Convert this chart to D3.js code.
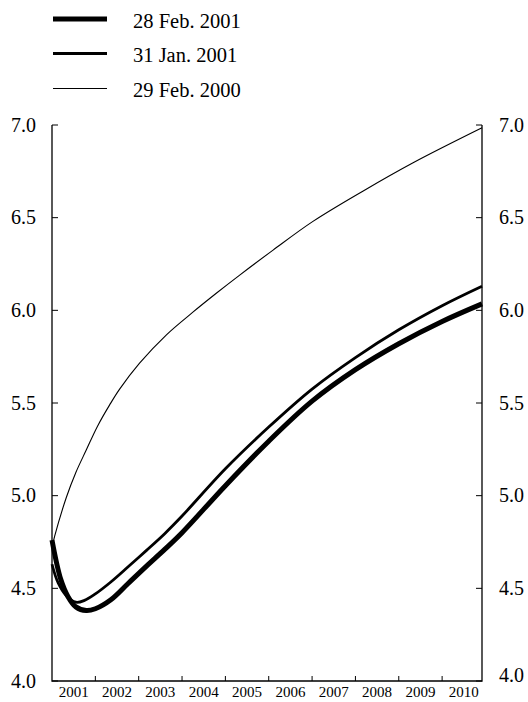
<!DOCTYPE html>
<html><head><meta charset="utf-8">
<script src="https://cdn.jsdelivr.net/npm/d3@7"></script>
<style>
body{margin:0;background:#fff}
svg{display:block}
text{font-family:"Liberation Serif","DejaVu Serif","Times New Roman",serif;fill:#000}
</style>
</head><body>
<svg id="c" width="528" height="702"></svg>
<script>
// ---- data ----
const seriesNames = ["28 Feb. 2001", "31 Jan. 2001", "29 Feb. 2000"];
const feb2001 = [[2001.00,4.76],[2001.20,4.55],[2001.37,4.455],[2001.55,4.40],[2001.79,4.38],[2002.00,4.39],[2002.35,4.437],[2002.75,4.525],[2003.18,4.62],[2003.60,4.71],[2004.00,4.80],[2005.00,5.054],[2006.00,5.294],[2007.00,5.51],[2008.00,5.68],[2009.00,5.82],[2010.00,5.94],[2010.92,6.035]];
const jan2001 = [[2001.00,4.63],[2001.14,4.53],[2001.33,4.46],[2001.55,4.425],[2001.75,4.435],[2002.00,4.47],[2002.35,4.533],[2002.75,4.615],[2003.18,4.705],[2003.60,4.795],[2004.00,4.89],[2005.00,5.145],[2006.00,5.37],[2007.00,5.575],[2008.00,5.745],[2009.00,5.895],[2010.00,6.025],[2010.92,6.13]];
const feb2000 = [[2001.00,4.72],[2001.06,4.78],[2001.33,4.99],[2001.55,5.125],[2001.79,5.246],[2002.05,5.375],[2002.33,5.49],[2002.56,5.575],[2003.02,5.715],[2003.64,5.868],[2004.25,5.99],[2004.79,6.092],[2005.33,6.19],[2006.10,6.325],[2007.02,6.48],[2008.17,6.643],[2009.32,6.795],[2010.92,6.985]];
const yTicks = [4.0, 4.5, 5.0, 5.5, 6.0, 6.5, 7.0];
const yearLabels = [2001, 2002, 2003, 2004, 2005, 2006, 2007, 2008, 2009, 2010];
const xDomain = [2001, 2010.92];

// ---- layout ----
const FONT = '"Liberation Serif","DejaVu Serif","Times New Roman",serif';
const svg = d3.select("#c");
const L = 52, R = 482, T = 125, B = 681;
const x = d3.scaleLinear().domain(xDomain).range([L, R]);
const y = d3.scaleLinear().domain([4, 7]).range([B, T]);
const widths = [5, 2.8, 1.1];
const data = [feb2001, jan2001, feb2000];

// axes lines
const g = svg.append("g").attr("stroke", "#000").attr("fill", "none");
g.append("path").attr("stroke-width", 1.3).attr("d", `M${L},${T}V${B}H${R}V${T}`);

// y ticks & labels
yTicks.forEach(v => {
  const yy = y(v);
  g.append("line").attr("x1", L).attr("x2", L + 6).attr("y1", yy).attr("y2", yy).attr("stroke-width", 1);
  g.append("line").attr("x1", R).attr("x2", R - 6).attr("y1", yy).attr("y2", yy).attr("stroke-width", 1);
  svg.append("text").attr("x", 36).attr("y", yy).attr("dy", "0.34em").attr("font-family", FONT)
    .attr("text-anchor", "end").attr("font-size", 20).text(v.toFixed(1));
  svg.append("text").attr("x", 499).attr("y", v === 4 ? yy - 6 : yy).attr("dy", "0.34em").attr("font-family", FONT)
    .attr("text-anchor", "start").attr("font-size", 20).text(v.toFixed(1));
});

// x ticks & labels
yearLabels.forEach(yr => {
  if (yr > 2001) {
    g.append("line").attr("x1", x(yr)).attr("x2", x(yr)).attr("y1", B).attr("y2", B - 5).attr("stroke-width", 1);
  }
  svg.append("text").attr("x", x(yr + 0.5)).attr("y", 697).attr("font-family", FONT)
    .attr("text-anchor", "middle").attr("font-size", 15).text(yr);
});

// lines
const line = d3.line().x(d => x(d[0])).y(d => y(d[1])).curve(d3.curveCatmullRom.alpha(0.5));
data.slice().reverse().forEach((s, i) => {
  const idx = data.length - 1 - i;
  svg.append("path").attr("d", line(s)).attr("fill", "none")
    .attr("stroke", "#000").attr("stroke-width", widths[idx])
    .attr("stroke-linejoin", "round");
});

// legend
const legY = [19, 53.5, 88.5];
seriesNames.forEach((n, i) => {
  svg.append("line").attr("x1", 53).attr("x2", 107).attr("y1", legY[i]).attr("y2", legY[i])
    .attr("stroke", "#000").attr("stroke-width", widths[i]);
  svg.append("text").attr("x", 133).attr("y", legY[i] + 8.5).attr("font-family", FONT)
    .attr("font-size", 20.5).text(n);
});
</script>
</body></html>
